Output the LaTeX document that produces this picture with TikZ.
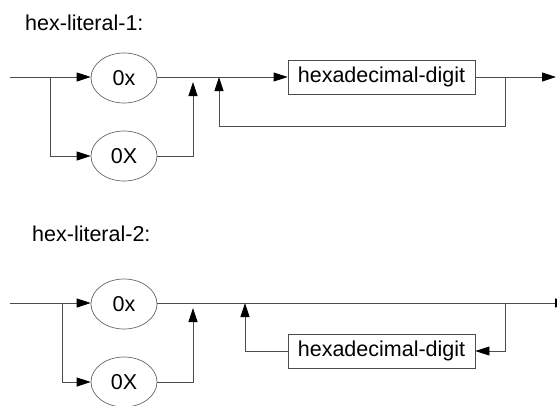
\documentclass[tikz,border=0pt]{standalone}
\usepackage{fontspec}
\setmainfont{Liberation Sans}
\usetikzlibrary{shapes.geometric,arrows.meta}
\begin{document}
\begin{tikzpicture}[x=1pt,y=-1pt,
  every node/.style={font=\fontsize{21.5}{26}\selectfont},
  wire/.style={draw=black!70,line width=0.8pt},
  flow/.style={wire,-{Triangle[length=14pt,width=9pt,color=black]}},
  term/.style={ellipse,draw=black!60,line width=0.7pt,minimum width=66pt,minimum height=50pt,inner sep=0pt},
  nonterm/.style={rectangle,draw=black!70,line width=0.8pt,minimum width=187pt,minimum height=34pt,inner sep=0pt},
  title/.style={anchor=base west,inner sep=0pt}]
\useasboundingbox (0,0) rectangle (557,405);

% ---- hex-literal-1 ----
\node[title] (t1) at (25,30) {hex-literal-1:};
\node[term] (a1) at (124,78) {0x};
\node[term] (a2) at (124,156) {0X};
\node[nonterm] (d1) at (381.5,77) {hexadecimal-digit};
\coordinate (s1) at (10,77);
\coordinate (b1) at (50,77);
\coordinate (m1) at (193,82);
\coordinate (j1) at (219,77);
\coordinate (r1) at (505,77);
\coordinate (e1) at (556,77);

\draw[flow] (s1) -- (s1 -| a1.west);
\draw[flow] (b1) |- (a2.west);
\draw[flow] (a2.east) -| (m1);
\draw[flow] (a1.east |- s1) -- (d1.west);
\draw[flow] (d1.east) -- (e1);
\draw[flow] (r1) -- ++(0,49) -| (j1);

% ---- hex-literal-2 ----
\node[title] (t2) at (32,241) {hex-literal-2:};
\node[term] (a3) at (124,304) {0x};
\node[term] (a4) at (124,382) {0X};
\node[nonterm] (d2) at (381.5,351) {hexadecimal-digit};
\coordinate (s2) at (10,303);
\coordinate (b2) at (62,303);
\coordinate (m2) at (193,308);
\coordinate (j2) at (245,303);
\coordinate (r2) at (505,303);
\coordinate (e2) at (569,303);

\draw[flow] (s2) -- (s2 -| a3.west);
\draw[flow] (b2) |- (a4.west);
\draw[flow] (a4.east) -| (m2);
\draw[flow] (a3.east |- s2) -- (e2);
\draw[flow] (d2.west) -| (j2);
\draw[flow] (r2) |- (d2.east);
\end{tikzpicture}
\end{document}
